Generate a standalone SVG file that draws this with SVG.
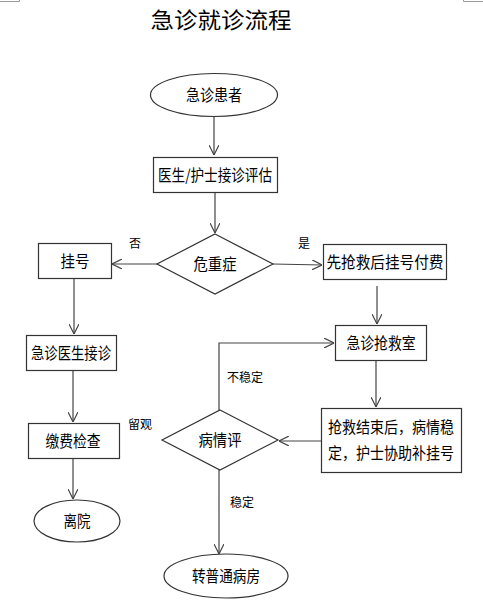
<svg xmlns="http://www.w3.org/2000/svg" width="483" height="613" viewBox="0 0 483 613">
<defs>
<style>
.s{fill:#fff;stroke:#333;stroke-width:1.2}
.c{fill:none;stroke:#444;stroke-width:1.2}
.t{font-family:"Noto Sans CJK SC","Liberation Sans",sans-serif;font-size:16px;fill:#000;text-anchor:middle}
.l{font-family:"Noto Sans CJK SC","Liberation Sans",sans-serif;font-size:12px;fill:#000}
.m{fill:none;stroke:#999;stroke-width:1}
</style>
<marker id="a" viewBox="0 0 10 10" refX="10" refY="5" markerWidth="10" markerHeight="10" markerUnits="userSpaceOnUse" orient="auto">
<path d="M0,0 L10,5 L0,10" fill="none" stroke="#444" stroke-width="1.2"/>
</marker>
</defs>
<rect width="483" height="613" fill="#fff"/>
<polyline class="m" points="0,1.5 19.5,1.5 19.5,0"/>
<polyline class="m" points="463.5,0 463.5,1.5 483,1.5"/>
<text x="221" y="28" font-family="'Noto Sans CJK SC',sans-serif" font-size="22" text-anchor="middle" textLength="141" lengthAdjust="spacingAndGlyphs">急诊就诊流程</text>
<g id="connectors">
<line class="c" x1="214" y1="116" x2="214" y2="155" marker-end="url(#a)"/>
<line class="c" x1="215" y1="192" x2="215" y2="233" marker-end="url(#a)"/>
<line class="c" x1="157" y1="264" x2="112" y2="264" marker-end="url(#a)"/>
<line class="c" x1="273" y1="264" x2="322" y2="265" marker-end="url(#a)"/>
<line class="c" x1="377" y1="286" x2="377" y2="324" marker-end="url(#a)"/>
<line class="c" x1="74" y1="278" x2="74" y2="334" marker-end="url(#a)"/>
<line class="c" x1="73" y1="370" x2="73" y2="422" marker-end="url(#a)"/>
<line class="c" x1="73" y1="458" x2="73" y2="499" marker-end="url(#a)"/>
<line class="c" x1="376" y1="360" x2="376" y2="407" marker-end="url(#a)"/>
<line class="c" x1="321" y1="441" x2="279" y2="441" marker-end="url(#a)"/>
<polyline class="c" points="219,410 219,343 334,343" marker-end="url(#a)"/>
<line class="c" x1="219" y1="470" x2="219" y2="554" marker-end="url(#a)"/>
<text class="l" x="129" y="248">否</text>
<text class="l" x="298" y="248">是</text>
<text class="l" x="128" y="429">留观</text>
<text class="l" x="227" y="382">不稳定</text>
<text class="l" x="230" y="507">稳定</text>
</g>
<g id="n1"><ellipse class="s" cx="214" cy="95" rx="63.5" ry="21.5"/><text class="t" x="214" y="101" textLength="56" lengthAdjust="spacingAndGlyphs">急诊患者</text></g>
<g id="n2"><rect class="s" x="153.5" y="157.5" width="124" height="35"/><text class="t" x="215" y="181" textLength="114" lengthAdjust="spacingAndGlyphs">医生/护士接诊评估</text></g>
<g id="n3"><polygon class="s" points="215,234 273,264 215,294 157,264"/><text class="t" x="215" y="270" textLength="43" lengthAdjust="spacingAndGlyphs">危重症</text></g>
<g id="n4"><rect class="s" x="38.5" y="243.5" width="73" height="35"/><text class="t" x="75" y="267" textLength="29" lengthAdjust="spacingAndGlyphs">挂号</text></g>
<g id="n5"><rect class="s" x="323.5" y="244.5" width="123" height="35"/><text class="t" x="385" y="268" textLength="117" lengthAdjust="spacingAndGlyphs">先抢救后挂号付费</text></g>
<g id="n6"><rect class="s" x="335.5" y="325.5" width="91" height="35"/><text class="t" x="381" y="349" textLength="69" lengthAdjust="spacingAndGlyphs">急诊抢救室</text></g>
<g id="n7"><rect class="s" x="26.5" y="335.5" width="90" height="35"/><text class="t" x="71" y="359" textLength="80" lengthAdjust="spacingAndGlyphs">急诊医生接诊</text></g>
<g id="n8"><rect class="s" x="28.5" y="423.5" width="91" height="35"/><text class="t" x="73" y="447" textLength="55" lengthAdjust="spacingAndGlyphs">缴费检查</text></g>
<g id="n9"><ellipse class="s" cx="77" cy="521" rx="43" ry="21"/><text class="t" x="77" y="527" textLength="27" lengthAdjust="spacingAndGlyphs">离院</text></g>
<g id="n10"><rect class="s" x="321.5" y="408.5" width="140" height="64"/><text class="t" x="391" y="433" textLength="126" lengthAdjust="spacingAndGlyphs">抢救结束后，病情稳</text><text class="t" x="391" y="459" textLength="126" lengthAdjust="spacingAndGlyphs">定，护士协助补挂号</text></g>
<g id="n11"><polygon class="s" points="220,410 278,440 220,470 162,440"/><text class="t" x="220" y="446" textLength="43" lengthAdjust="spacingAndGlyphs">病情评</text></g>
<g id="n12"><ellipse class="s" cx="226" cy="576" rx="62" ry="22"/><text class="t" x="226" y="582" textLength="68" lengthAdjust="spacingAndGlyphs">转普通病房</text></g>
</svg>
